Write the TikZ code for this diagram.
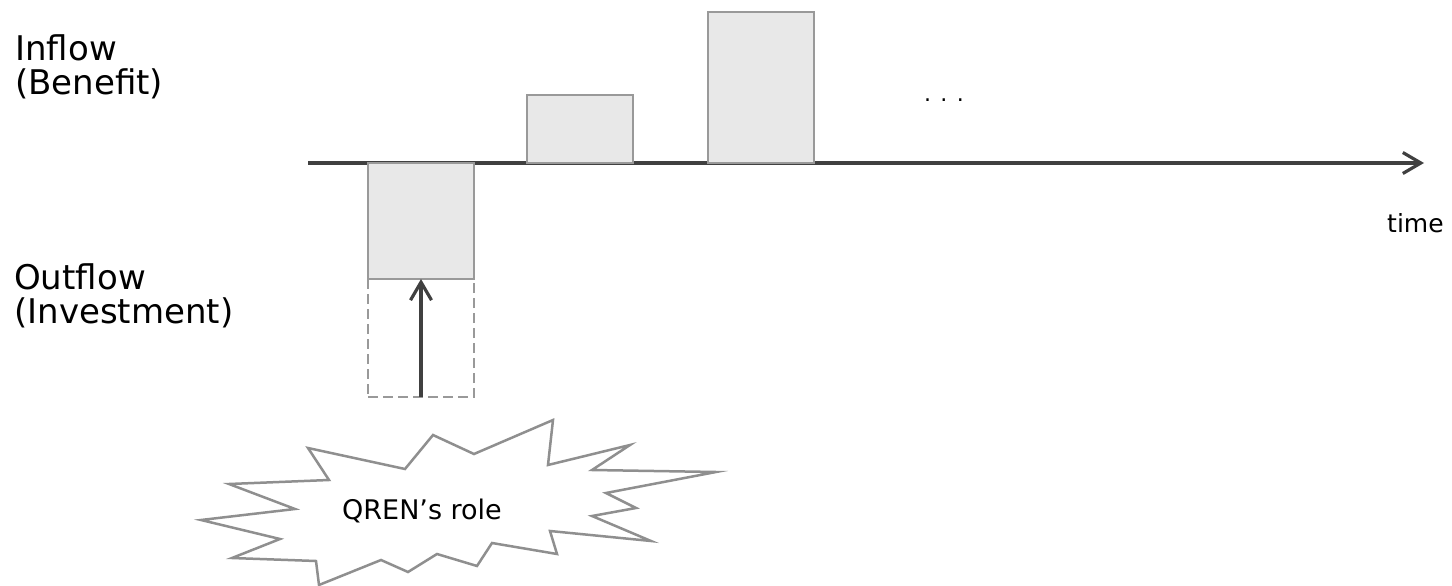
\documentclass[tikz,border=0pt]{standalone}
\usepackage{fontspec}
\setmainfont{DejaVu Sans}
\usetikzlibrary{arrows.meta,positioning}
\definecolor{axisgray}{HTML}{404040}
\definecolor{barline}{HTML}{999999}
\definecolor{barfill}{HTML}{E8E8E8}
\definecolor{burstline}{HTML}{8F8F8F}

\begin{document}
\begin{tikzpicture}[x=1pt, y=-1pt,
		bar/.style={draw=barline, fill=barfill, line width=2.5pt, inner sep=0pt,
			outer sep=0pt, minimum width=106pt},
		sidelabel/.style={anchor=north west, inner sep=0pt, align=left,
			font=\fontsize{34}{34}\selectfont},
		flow/.style={draw=axisgray, line width=3.2pt, ->},
		>={Straight Barb[length=18pt,width=21pt]}]
	\useasboundingbox (0,0) rectangle (1452,586);
	% labels
	\node[sidelabel] (inflow) at (15,34) {Inflow\\(Benefit)};
	\node[sidelabel] (outflow) at (14,263) {Outflow\\(Investment)};
	% time axis
	\coordinate (t0) at (308,163);
	\coordinate (t1) at (1424,163);
	\draw[flow] (t0) -- (t1);
	\node[anchor=base west, inner sep=0pt, font=\fontsize{25}{25}\selectfont] (time) at (1387,232) {time};
	% cash flows
	\node[bar, minimum height=116pt, anchor=north west] (out) at (368,163) {};
	\node[bar, minimum height=118pt, fill=none, dash pattern=on 10pt off 5pt, below=0pt of out] (hole) {};
	\node[bar, minimum height=68pt, anchor=south west] (ben1) at (527,163) {};
	\node[bar, minimum height=151pt, anchor=south west] (ben2) at (708,163) {};
	\node[anchor=base, inner sep=0pt, font=\fontsize{22}{22}\selectfont] (more) at (944,102) {. . .};
	\draw[flow] (hole.south) -- (out.south);
	% starburst
	\draw[draw=burstline, fill=white, line width=2.5pt, line join=miter]
		(437,554) -- (477,566) -- (492,543) -- (557,554) -- (550,531) -- (651,541)
		-- (592,516) -- (636,508) -- (606,493) -- (716,472) -- (592,470) -- (630,445)
		-- (548,465) -- (553,420) -- (474,454) -- (433,435) -- (405,469) -- (308,448)
		-- (329,480) -- (229,484) -- (295,509) -- (201,520) -- (280,539) -- (232,558)
		-- (316,561) -- (319,585) -- (381,560) -- (408,572) -- cycle;
	\node[inner sep=0pt, font=\fontsize{27}{27}\selectfont] (role) at (422,511) {QREN’s role};
\end{tikzpicture}
\end{document}
